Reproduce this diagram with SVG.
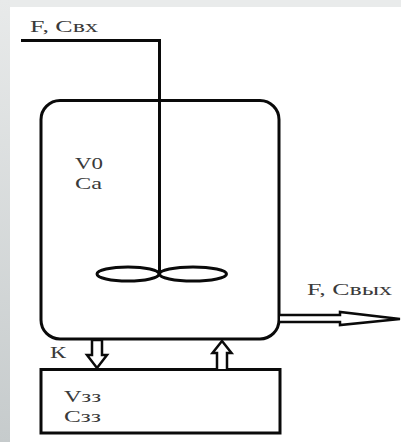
<svg xmlns="http://www.w3.org/2000/svg" width="401" height="442" viewBox="0 0 401 442">
<defs>
<linearGradient id="side" x1="0" y1="0" x2="0" y2="1"><stop offset="0" stop-color="#e8eaea"/><stop offset="1" stop-color="#c6cbcc"/></linearGradient>
</defs>
<style>
.l{fill:none;stroke:#0a0a0a;stroke-width:3}
.a{fill:#fff;stroke:#0a0a0a;stroke-width:2.5;stroke-linejoin:miter}
text{font-family:"Liberation Serif","Times New Roman",serif;font-size:17px;fill:#3a3a3a}
</style>
<rect width="401" height="442" fill="#fff"/>
<rect width="401" height="7" fill="#e9ebeb"/>
<rect width="10" height="442" fill="url(#side)"/>
<g id="tank"><rect class="l" x="41" y="100.5" width="238" height="238.5" rx="19" ry="19"/>
<text x="75" y="169" textLength="28" lengthAdjust="spacingAndGlyphs">V0</text><text x="75" y="189" textLength="27" lengthAdjust="spacingAndGlyphs">Ca</text></g>
<g id="storage"><rect class="l" x="41" y="369.5" width="239" height="63.5"/>
<text x="64" y="402" textLength="37" lengthAdjust="spacingAndGlyphs">Vзз</text><text x="64" y="422" textLength="37" lengthAdjust="spacingAndGlyphs">Сзз</text></g>
<g id="stirrer"><ellipse class="l" cx="128" cy="274" rx="31" ry="7"/><ellipse class="l" cx="193" cy="274" rx="33.500" ry="7"/></g>
<g id="connectors">
<path class="l" d="M21 40.500H159.500V274"/>
<path class="a" d="M92 340H102V355H107L97 368L87 355H92Z"/>
<path class="a" d="M217 369V353H212.500L222 341L231.500 353H227V369"/>
<path class="a" d="M280 315H340V312L400 319L340 325V322H280" stroke-width="2"/>
</g>
<g id="labels">
<text x="30" y="32" textLength="68" lengthAdjust="spacingAndGlyphs">F, Свх</text>
<text x="50" y="358" textLength="16" lengthAdjust="spacingAndGlyphs">К</text>
<text x="307" y="295" textLength="85" lengthAdjust="spacingAndGlyphs">F, Свых</text>
</g>
</svg>
